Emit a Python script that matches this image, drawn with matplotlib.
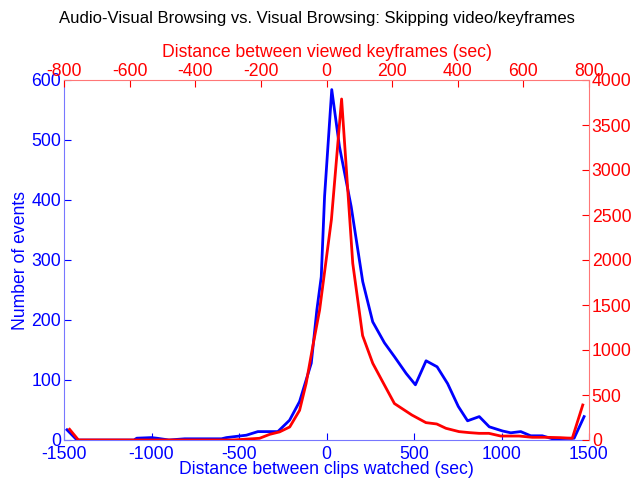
import matplotlib
matplotlib.use("Agg")
import matplotlib.pyplot as plt

plt.rcParams["font.family"] = ["Liberation Sans", "DejaVu Sans"]
plt.rcParams["axes.unicode_minus"] = False

# Audio-visual browsing: distance between clips watched (sec) vs number of events
av_x = [-1483, -1426, -1100, -1084, -1000, -970, -900, -810, -680, -600, -572,
        -458, -392, -278, -211, -154, -87, -55, -30, -11, 30, 74, 141, 207,
        264, 331, 388, 455, 508, 569, 632, 692, 753, 806, 873, 930, 1006,
        1053, 1110, 1167, 1233, 1291, 1415, 1472]
av_y = [17, 0, 0, 3, 4, 3, 0, 2, 2, 2, 4,
        8, 14, 14, 33, 64, 128, 217, 272, 406, 584, 489, 389, 264,
        197, 162, 139, 111, 92, 132, 122, 94, 56, 32, 39, 22, 15,
        12, 14, 7, 7, 2, 3, 39]

# Visual browsing: distance between viewed keyframes (sec) vs number of events
v_x = [-783, -756, -600, -400, -286, -204, -173, -143, -112, -82, -62, -42,
       -21, 15, 46, 80, 110, 141, 171, 207, 260, 303, 336, 364, 404, 435,
       465, 495, 531, 587, 627, 668, 713, 749, 781]
v_y = [119, 0, 0, 0, 0, 19, 63, 90, 145, 330, 630, 1037,
       1444, 2450, 3789, 1963, 1160, 852, 648, 405, 278, 193, 178, 130, 93, 82,
       74, 74, 44, 44, 30, 30, 26, 19, 389]

bottom_ticks = [-1500, -1000, -500, 0, 500, 1000, 1500]
left_ticks = [0, 100, 200, 300, 400, 500, 600]
top_ticks = [-800, -600, -400, -200, 0, 200, 400, 600, 800]
right_ticks = [0, 500, 1000, 1500, 2000, 2500, 3000, 3500, 4000]

BLUE = "#0000ff"
RED = "#ff0000"
FS = 12.7

fig = plt.figure(figsize=(6.34, 4.79), dpi=100)
pos = [64 / 634, 39 / 479, 525 / 634, 360 / 479]

ax = fig.add_axes(pos)
ax.plot(av_x, av_y, color=BLUE, lw=2.0)
ax.set_xlim(-1500, 1500)
ax.set_ylim(0, 600)
ax.set_xticks(bottom_ticks)
ax.set_yticks(left_ticks)
ax.tick_params(direction="in", length=5, width=0.8, colors=BLUE,
               labelsize=FS, pad=2)
ax.tick_params(axis="x", pad=4)
for side in ["top", "right"]:
    ax.spines[side].set_visible(False)
for side in ["left", "bottom"]:
    ax.spines[side].set_color("#7777ff")
    ax.spines[side].set_linewidth(0.8)
ax.set_xlabel("Distance between clips watched (sec)", color=BLUE,
              fontsize=FS, labelpad=-1)
ax.set_ylabel("Number of events", color=BLUE, fontsize=FS, labelpad=2)

ax2 = fig.add_axes(pos, frameon=True)
ax2.patch.set_visible(False)
ax2.plot(v_x, v_y, color=RED, lw=2.0)
ax2.set_xlim(-800, 800)
ax2.set_ylim(0, 4000)
ax2.xaxis.tick_top()
ax2.xaxis.set_label_position("top")
ax2.yaxis.tick_right()
ax2.yaxis.set_label_position("right")
ax2.set_xticks(top_ticks)
ax2.set_yticks(right_ticks)
ax2.tick_params(direction="in", length=5, width=0.8, colors=RED,
                labelsize=FS, pad=2)
ax2.tick_params(axis="x", pad=0)
for side in ["left", "bottom"]:
    ax2.spines[side].set_visible(False)
for side in ["top", "right"]:
    ax2.spines[side].set_color("#ff7777")
    ax2.spines[side].set_linewidth(0.8)
ax2.set_xlabel("Distance between viewed keyframes (sec)", color=RED,
               fontsize=FS, labelpad=4)

fig.text(0.5, 1 - 18 / 479,
         "Audio-Visual Browsing vs. Visual Browsing: Skipping video/keyframes",
         ha="center", va="center", fontsize=12, color="black")

fig.savefig("out.png", dpi=100)
